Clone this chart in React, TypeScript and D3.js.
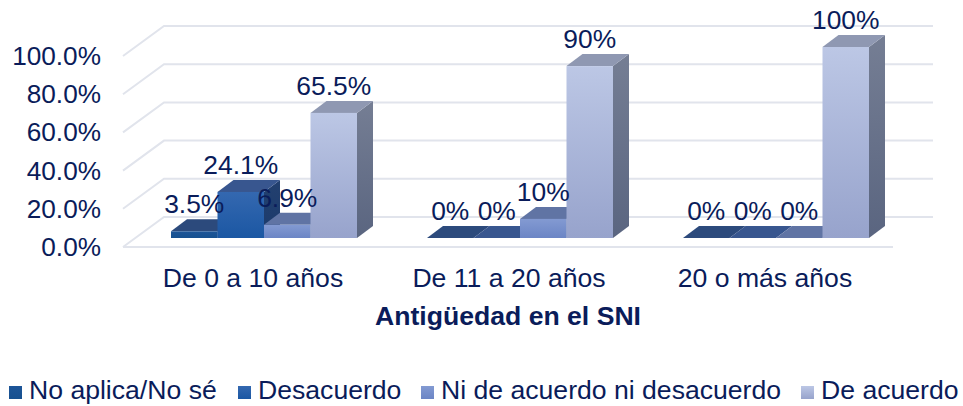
import React from "react";
import * as d3 from "d3";

const categories = ["De 0 a 10 años", "De 11 a 20 años", "20 o más años"];
const seriesNames = ["No aplica/No sé", "Desacuerdo", "Ni de acuerdo ni desacuerdo", "De acuerdo"];
const noAplica = [3.5, 0, 0];
const desacuerdo = [24.1, 0, 0];
const niNi = [6.9, 10, 0];
const deAcuerdo = [65.5, 90, 100];
const labels = [
  ["3.5%", "0%", "0%"],
  ["24.1%", "0%", "0%"],
  ["6.9%", "10%", "0%"],
  ["65.5%", "90%", "100%"],
];
const yTicks = [0, 20, 40, 60, 80, 100];
const seriesValues = [noAplica, desacuerdo, niNi, deAcuerdo];
const frontStops = [
  ["#1d5598", "#16508f"],
  ["#3468b0", "#1b57a3"],
  ["#839ad2", "#6b85c5"],
  ["#bcc7e5", "#97a3cc"],
];
const topColors = ["#2c4a7c", "#38568f", "#6074a4", "#8f98b2"];
const sideStops = [
  ["#233f6c", "#1c3a68"],
  ["#23406f", "#1b3a6c"],
  ["#5a6d9a", "#4f6290"],
  ["#757e94", "#5a6580"],
];
const legendX = [9, 238, 421, 801];

const TEXT = "#0a1c5a";
const GRID = "#e1e4ec";
const FONT = "'Liberation Sans', Arial, sans-serif";
const W = 963, H = 406;
const DX = 16, DY = -12;
const BASE = 238;
const GRID_FRONT_0 = 247, GRID_BACK_X0 = 164, GRID_FRONT_X0 = 123;

export default function App() {
  const h = d3.scaleLinear().domain([0, 100]).range([0, 191]);
  const yAxis = d3.scaleLinear().domain([0, 100]).range([GRID_FRONT_0, 56]);
  const group = d3.scaleBand<string>().domain(categories).range([171, 171 + 256 * 3]);
  const barW = 46.5;
  const barX = (c: number, s: number) => (group(categories[c]) as number) + s * barW;
  const catCenter = (c: number) => (group(categories[c]) as number) + 2 * barW - 11;

  return (
    <svg width={W} height={H} viewBox={`0 0 ${W} ${H}`} style={{ position: "fixed", left: 0, top: 0, background: "#fff" }} fontFamily={FONT}>
      <defs>
        {frontStops.map((st, i) => (
          <linearGradient key={i} id={`f${i}`} x1="0" y1="0" x2="0" y2="1">
            <stop offset="0" stopColor={st[0]} />
            <stop offset="1" stopColor={st[1]} />
          </linearGradient>
        ))}
        {sideStops.map((st, i) => (
          <linearGradient key={i} id={`s${i}`} x1="0" y1="0" x2="0" y2="1">
            <stop offset="0" stopColor={st[0]} />
            <stop offset="1" stopColor={st[1]} />
          </linearGradient>
        ))}
      </defs>

      {yTicks.map((t) => {
        const yF = yAxis(t);
        const yB = yF - 30;
        return (
          <g key={t} fill="none" stroke={GRID} strokeWidth={2}>
            <polyline points={`${GRID_FRONT_X0},${yF} ${GRID_BACK_X0},${yB} 933,${yB}`} />
            {t === 0 && <line x1={GRID_FRONT_X0} y1={yF} x2={893} y2={yF} />}
          </g>
        );
      })}

      {yTicks.map((t) => (
        <text key={t} x={101} y={yAxis(t)} dy={9} textAnchor="end" fontSize={26.2} fill={TEXT}>
          {t.toFixed(1)}%
        </text>
      ))}

      {categories.map((_, c) =>
        seriesValues.map((vals, s) => {
          const x = barX(c, s);
          const bh = h(vals[c]);
          const top = BASE - bh;
          return (
            <g key={`${c}-${s}`}>
              {bh > 0 && (
                <path d={`M${x + barW},${top}L${x + barW + DX},${top + DY}L${x + barW + DX},${BASE + DY}L${x + barW},${BASE}Z`} fill={`url(#s${s})`} />
              )}
              <path d={`M${x},${top}L${x + DX},${top + DY}L${x + barW + DX},${top + DY}L${x + barW},${top}Z`} fill={topColors[s]} />
              {bh > 0 && <rect x={x} y={top} width={barW} height={bh} fill={`url(#f${s})`} />}
            </g>
          );
        })
      )}

      {categories.map((_, c) =>
        seriesValues.map((vals, s) => (
          <text key={`${c}-${s}`} x={barX(c, s) + barW / 2} y={BASE - h(vals[c]) - 18} textAnchor="middle" fontSize={26.4} fill={TEXT}>
            {labels[s][c]}
          </text>
        ))
      )}

      {categories.map((cat, c) => (
        <text key={cat} x={catCenter(c)} y={287} textAnchor="middle" fontSize={26.6} fill={TEXT}>
          {cat}
        </text>
      ))}

      <text x={508} y={325} textAnchor="middle" fontSize={26.6} fontWeight="bold" fill={TEXT}>
        Antigüedad en el SNI
      </text>

      {seriesNames.map((n, s) => (
        <g key={n}>
          <rect x={legendX[s]} y={386} width={13} height={13} fill={`url(#f${s})`} />
          <text x={legendX[s] + 20} y={399} fontSize={26.6} fill={TEXT}>
            {n}
          </text>
        </g>
      ))}
    </svg>
  );
}
